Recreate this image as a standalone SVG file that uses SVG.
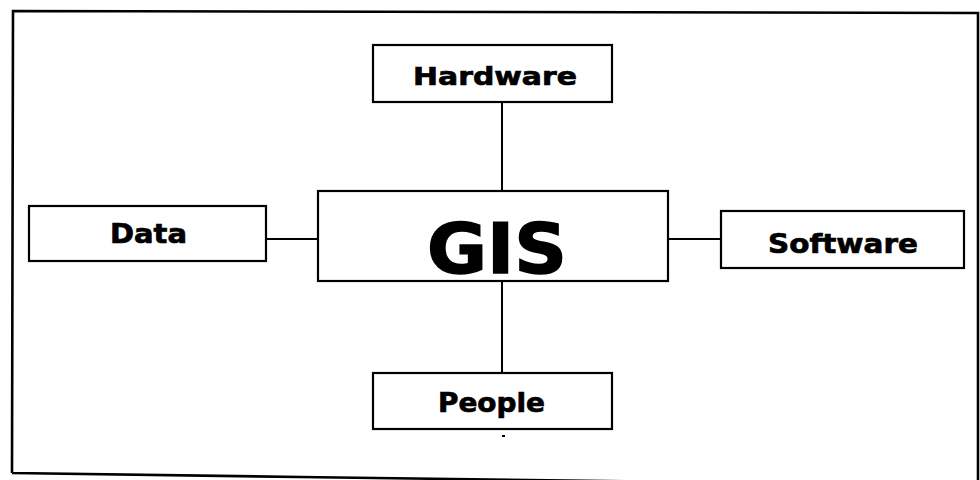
<svg xmlns="http://www.w3.org/2000/svg" width="980" height="480" viewBox="0 0 980 480">
  <style>
    .box { fill: #fff; stroke: #000; stroke-width: 2.2; }
    .lbl { font-family: "DejaVu Sans", Verdana, sans-serif; font-weight: bold; fill: #000; stroke: #000; stroke-width: 0.7; }
    .big { stroke-width: 1.5; }
    .conn { stroke: #000; stroke-width: 2; fill: none; }
    .frame { stroke: #000; stroke-width: 2.6; fill: none; }
  </style>
  <rect width="980" height="480" fill="#fff"/>
  <path class="frame" d="M12,473 L13,11 L978,13 L978,482 M12,473 L300,477 L980,486"/>
  <g id="connectors">
    <line class="conn" x1="502" y1="102" x2="502" y2="191"/>
    <line class="conn" x1="502" y1="281" x2="502" y2="373"/>
    <line class="conn" x1="266" y1="239" x2="318" y2="239"/>
    <line class="conn" x1="668" y1="239" x2="721" y2="239"/>
  </g>
  <g id="hardware">
    <rect class="box" x="373" y="45" width="239" height="57"/>
    <text class="lbl" x="413" y="85" font-size="25" textLength="164" lengthAdjust="spacingAndGlyphs">Hardware</text>
  </g>
  <g id="data">
    <rect class="box" x="29" y="206" width="237" height="55"/>
    <text class="lbl" x="110" y="243" font-size="27" textLength="77" lengthAdjust="spacingAndGlyphs">Data</text>
  </g>
  <g id="gis">
    <rect class="box" x="318" y="191" width="350" height="90"/>
    <text class="lbl big" x="427" y="273" font-size="70" textLength="140" lengthAdjust="spacingAndGlyphs">GIS</text>
  </g>
  <g id="software">
    <rect class="box" x="721" y="211" width="243" height="57"/>
    <text class="lbl" x="768" y="253" font-size="27" textLength="150" lengthAdjust="spacingAndGlyphs">Software</text>
  </g>
  <g id="people">
    <rect class="box" x="373" y="373" width="239" height="56"/>
    <text class="lbl" x="438" y="412" font-size="26" textLength="107" lengthAdjust="spacingAndGlyphs">People</text>
  </g>
  <rect x="502" y="435" width="3" height="2" fill="#000"/>
</svg>
